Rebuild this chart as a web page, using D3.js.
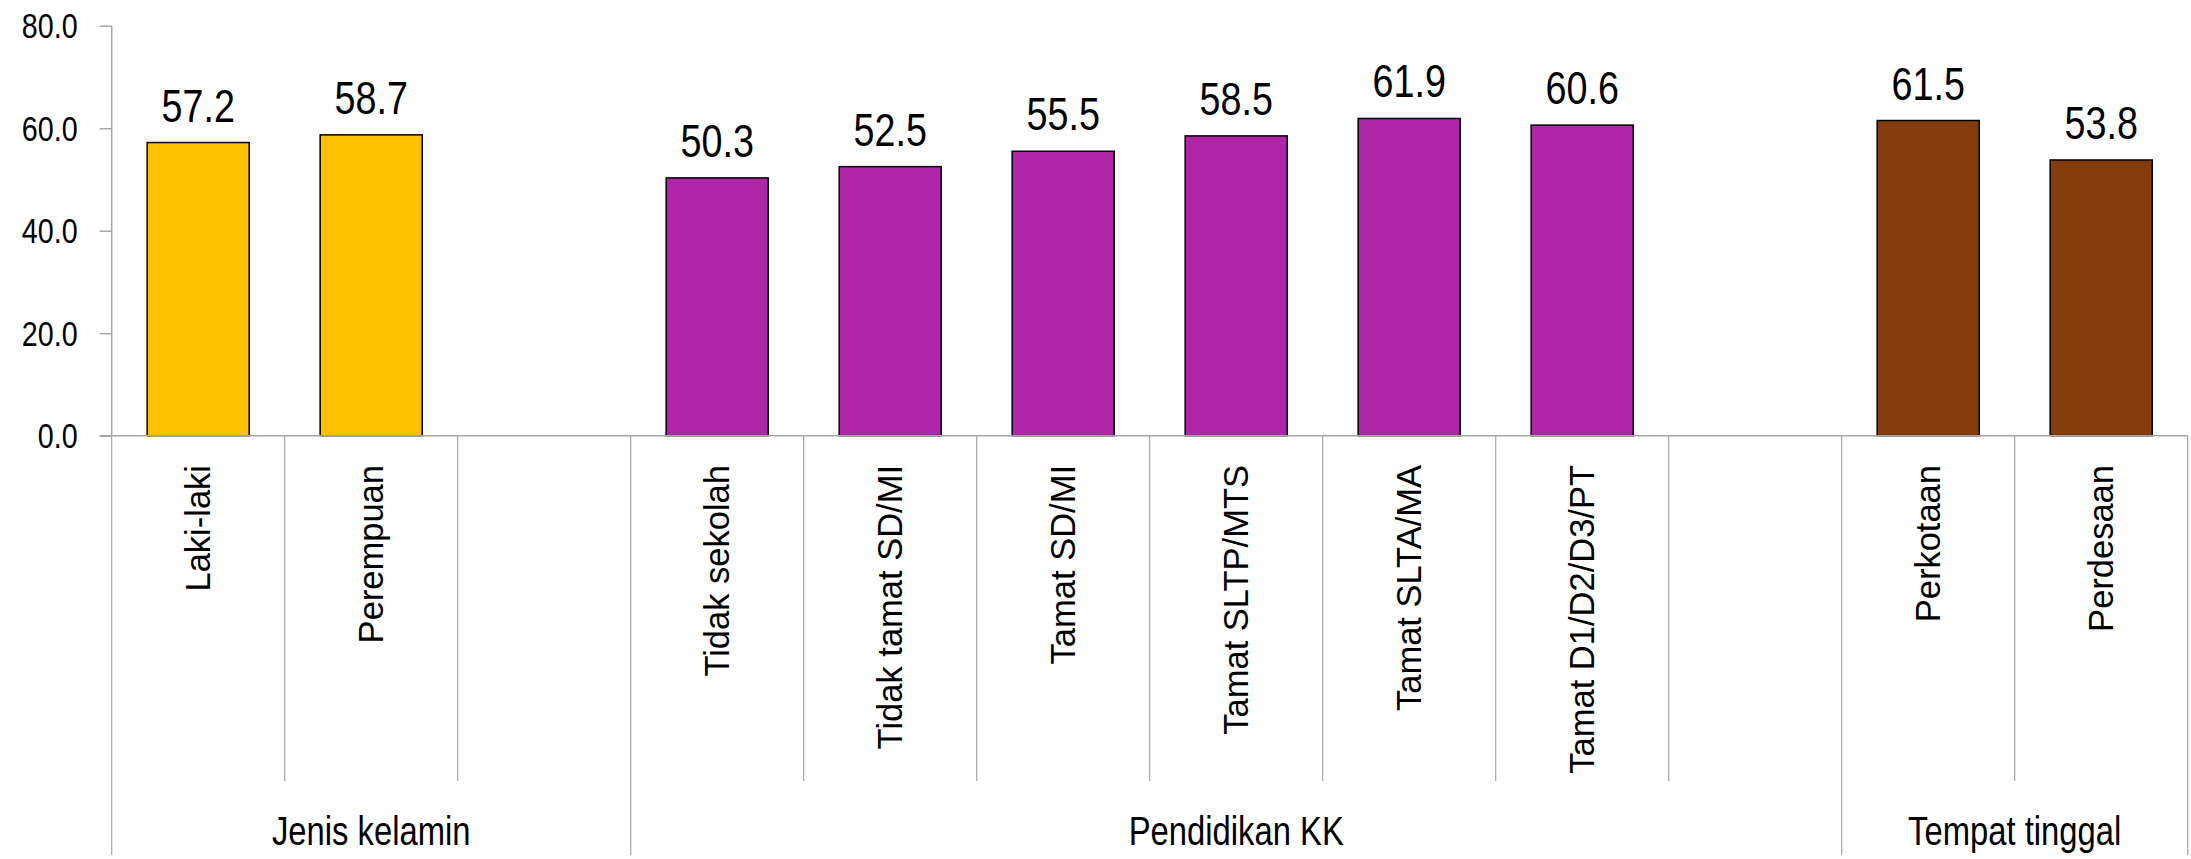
<!DOCTYPE html>
<html>
<head>
<meta charset="utf-8">
<script src="https://cdn.jsdelivr.net/npm/d3@7"></script>
<style>
  html, body { margin: 0; padding: 0; background: #fff; }
  svg { display: block; }
</style>
</head>
<body>
<svg id="chart" width="2191" height="859"></svg>
<script>
// ---- data ----
const categories = ["Laki-laki", "Perempuan", "", "Tidak sekolah", "Tidak tamat SD/MI", "Tamat SD/MI",
  "Tamat SLTP/MTS", "Tamat SLTA/MA", "Tamat D1/D2/D3/PT", "", "Perkotaan", "Perdesaan"];
const values = [57.2, 58.7, null, 50.3, 52.5, 55.5, 58.5, 61.9, 60.6, null, 61.5, 53.8];
const groupOf = [0, 0, 0, 1, 1, 1, 1, 1, 1, 1, 2, 2];
const groups = ["Jenis kelamin", "Pendidikan KK", "Tempat tinggal"];
const groupColors = ["#FFC000", "#B026A8", "#843C0C"];
const yTicks = [0, 20, 40, 60, 80];

(function () {
// ---- font detection ----
function hasFont(name) {
  const c = document.createElement("canvas").getContext("2d");
  c.font = "40px monospace";
  const w0 = c.measureText("80.0 Jenis kelamin").width;
  c.font = `40px '${name}', monospace`;
  return c.measureText("80.0 Jenis kelamin").width !== w0;
}
const narrowOK = hasFont("Liberation Sans Narrow");
const narrowFamily = narrowOK ? "'Liberation Sans Narrow', 'Arial Narrow', sans-serif" : "'Liberation Sans', Arial, sans-serif";
const narrowScale = narrowOK ? 1 : 0.82;

const svg = d3.select("#chart");
const pLeft = 111.7, pRight = 2187.7, pTop = 25.7, pBottom = 435.7;

const x = d3.scaleBand().domain(d3.range(categories.length)).range([pLeft, pRight]).paddingInner(0.41).paddingOuter(0.205);
const y = d3.scaleLinear().domain([0, 80]).range([pBottom, pTop]);
const step = x.step();
const gray = "#A6A6A6";

// y axis
const yAxis = svg.append("g").attr("transform", `translate(${pLeft},0)`)
  .call(d3.axisLeft(y).tickValues(yTicks).tickSize(12).tickPadding(0).tickFormat(d3.format(".1f")));
yAxis.select(".domain").attr("stroke", gray).attr("stroke-width", 1.5).attr("d", `M0,${pTop}V${pBottom}`);
yAxis.selectAll(".tick line").attr("stroke", gray).attr("stroke-width", 1.5);
yAxis.selectAll(".tick text").remove();
yAxis.selectAll(".tick").append("text")
  .attr("transform", `translate(-34,0) scale(${narrowScale},1)`)
  .attr("text-anchor", "end").attr("dy", "0.35em")
  .attr("font-family", narrowFamily).attr("font-size", 35).attr("fill", "#000")
  .text(d => d3.format(".1f")(d));

// bars
const idx = d3.range(categories.length).filter(i => values[i] !== null);
svg.append("g").selectAll("rect").data(idx).join("rect")
  .attr("x", i => x(i)).attr("width", x.bandwidth())
  .attr("y", i => y(values[i])).attr("height", i => y(0) - y(values[i]))
  .attr("fill", i => groupColors[groupOf[i]])
  .attr("stroke", "#000").attr("stroke-width", 1.5);

// value labels
svg.append("g").selectAll("text").data(idx).join("text")
  .attr("transform", i => `translate(${x(i) + x.bandwidth() / 2},${y(values[i]) - 21}) scale(${narrowScale},1)`)
  .attr("text-anchor", "middle")
  .attr("font-family", narrowFamily).attr("font-size", 46).attr("fill", "#000")
  .text(i => values[i].toFixed(1));

// x axis baseline
svg.append("line").attr("x1", pLeft - 12).attr("x2", pRight).attr("y1", pBottom).attr("y2", pBottom)
  .attr("stroke", gray).attr("stroke-width", 1.5);

// category separators
const bounds = d3.range(categories.length + 1);
const groupStarts = [0, 3, 10, 12];
svg.append("g").selectAll("line").data(bounds).join("line")
  .attr("x1", b => pLeft + b * step).attr("x2", b => pLeft + b * step)
  .attr("y1", pBottom).attr("y2", b => groupStarts.includes(b) ? 855 : 781)
  .attr("stroke", gray).attr("stroke-width", 1.2);

// category labels
svg.append("g").selectAll("text").data(d3.range(categories.length)).join("text")
  .attr("transform", i => `translate(${x(i) + x.bandwidth() / 2 + 12},465) rotate(-90)`)
  .attr("text-anchor", "end")
  .attr("font-family", "'Liberation Sans', Arial, sans-serif").attr("font-size", 34.5).attr("fill", "#000")
  .text(i => categories[i]);

// group labels
svg.append("g").selectAll("text").data(groups).join("text")
  .attr("transform", (g, gi) => {
    const cx = pLeft + (groupStarts[gi] + groupStarts[gi + 1]) / 2 * step;
    return `translate(${cx},845) scale(${narrowScale},1)`;
  })
  .attr("text-anchor", "middle")
  .attr("font-family", narrowFamily).attr("font-size", 40).attr("fill", "#000")
  .text(g => g);
})();
</script>
</body>
</html>
